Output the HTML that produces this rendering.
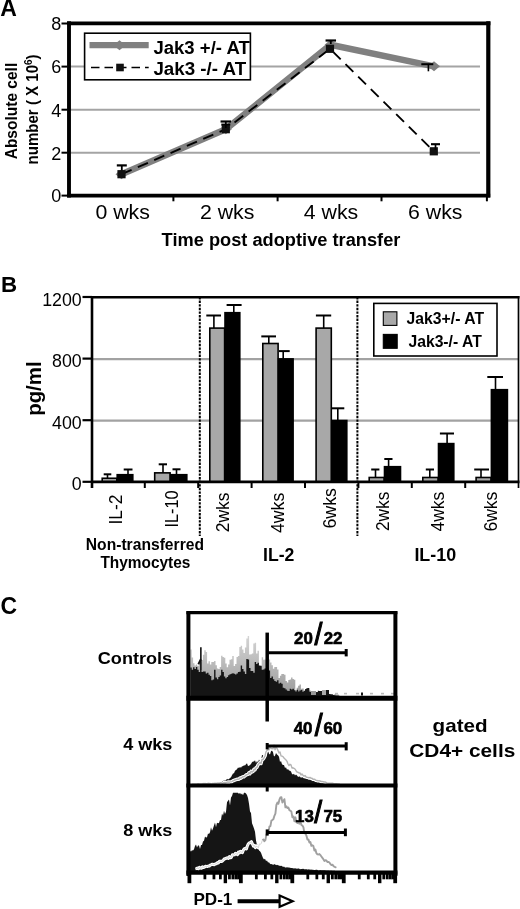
<!DOCTYPE html>
<html lang="en"><head><meta charset="utf-8"><title>Figure</title>
<style>html,body{margin:0;padding:0;background:#fff;}body{width:520px;height:909px;overflow:hidden;}svg{display:block;font-family:"Liberation Sans",Arial,Helvetica,sans-serif;filter:blur(0.45px);}</style></head><body>
<svg width="520" height="909" viewBox="0 0 520 909">
<rect x="0" y="0" width="520" height="909" fill="#fff"/>
<g id="panelA">
<text x="0.2" y="16.3" font-size="23" font-weight="bold">A</text>
<line x1="70" y1="66.5" x2="480" y2="66.5" stroke="#a4a4a4" stroke-width="2.1"/>
<line x1="70" y1="109.7" x2="480" y2="109.7" stroke="#a4a4a4" stroke-width="2.1"/>
<line x1="70" y1="152.7" x2="480" y2="152.7" stroke="#a4a4a4" stroke-width="2.1"/>
<line x1="69.0" y1="21.3" x2="69.0" y2="197.5" stroke="#000" stroke-width="3.9"/>
<line x1="67.1" y1="23.4" x2="490.4" y2="23.4" stroke="#000" stroke-width="3.8"/>
<line x1="488.3" y1="21.3" x2="488.3" y2="197.5" stroke="#000" stroke-width="4.2"/>
<line x1="67.1" y1="195.6" x2="490.2" y2="195.6" stroke="#000" stroke-width="3.9"/>
<line x1="61.5" y1="23.5" x2="67.5" y2="23.5" stroke="#000" stroke-width="2"/>
<text x="61.2" y="30.3" font-size="18" text-anchor="end">8</text>
<line x1="61.5" y1="66.6" x2="67.5" y2="66.6" stroke="#000" stroke-width="2"/>
<text x="61.2" y="73.39999999999999" font-size="18" text-anchor="end">6</text>
<line x1="61.5" y1="109.7" x2="67.5" y2="109.7" stroke="#000" stroke-width="2"/>
<text x="61.2" y="116.5" font-size="18" text-anchor="end">4</text>
<line x1="61.5" y1="152.7" x2="67.5" y2="152.7" stroke="#000" stroke-width="2"/>
<text x="61.2" y="159.5" font-size="18" text-anchor="end">2</text>
<line x1="61.5" y1="195.6" x2="67.5" y2="195.6" stroke="#000" stroke-width="2"/>
<text x="61.2" y="202.4" font-size="18" text-anchor="end">0</text>
<line x1="173.4" y1="197" x2="173.4" y2="201.3" stroke="#000" stroke-width="2"/>
<line x1="277.6" y1="197" x2="277.6" y2="201.3" stroke="#000" stroke-width="2"/>
<line x1="381.5" y1="197" x2="381.5" y2="201.3" stroke="#000" stroke-width="2"/>
<line x1="486.9" y1="197" x2="486.9" y2="201.3" stroke="#000" stroke-width="2"/>
<text x="95.39999999999999" y="218.9" font-size="20" textLength="54.4" lengthAdjust="spacingAndGlyphs">0 wks</text>
<text x="199.9" y="218.9" font-size="20" textLength="54.4" lengthAdjust="spacingAndGlyphs">2 wks</text>
<text x="303.8" y="218.9" font-size="20" textLength="54.4" lengthAdjust="spacingAndGlyphs">4 wks</text>
<text x="408.1" y="218.9" font-size="20" textLength="54.4" lengthAdjust="spacingAndGlyphs">6 wks</text>
<text x="161.6" y="246.3" font-size="18.3" font-weight="bold" textLength="238.8" lengthAdjust="spacingAndGlyphs">Time post adoptive transfer</text>
<text x="17" y="159.3" font-size="16.5" font-weight="bold" textLength="96.5" lengthAdjust="spacingAndGlyphs" transform="rotate(-90 17 159.3)">Absolute cell</text>
<text x="37.7" y="164.4" font-size="16.5" font-weight="bold" transform="rotate(-90 37.7 164.4)" textLength="110" lengthAdjust="spacingAndGlyphs">number ( X 10<tspan font-size="11" dy="-5.5">6</tspan><tspan dy="5.5">)</tspan></text>
<polyline points="121.5,174.2 225.8,129.2 330.6,44.8 434.0,66.3" fill="none" stroke="#808080" stroke-width="6.4" stroke-linejoin="miter"/>
<polygon points="115.5,174.2 121.5,169.2 127.5,174.2 121.5,179.2" fill="#808080"/>
<polygon points="219.8,129.2 225.8,124.19999999999999 231.8,129.2 225.8,134.2" fill="#808080"/>
<polygon points="324.6,44.8 330.6,39.8 336.6,44.8 330.6,49.8" fill="#808080"/>
<polygon points="428.0,66.3 434.0,61.3 440.0,66.3 434.0,71.3" fill="#808080"/>
<line x1="121.8" y1="165.4" x2="121.8" y2="172" stroke="#000" stroke-width="1.8"/>
<line x1="116.8" y1="165.4" x2="126.8" y2="165.4" stroke="#000" stroke-width="2.2"/>
<line x1="225.8" y1="121.5" x2="225.8" y2="127" stroke="#000" stroke-width="1.8"/>
<line x1="220.55" y1="121.5" x2="231.05" y2="121.5" stroke="#000" stroke-width="2.2"/>
<line x1="330.8" y1="40.5" x2="330.8" y2="44" stroke="#000" stroke-width="1.8"/>
<line x1="325.55" y1="40.5" x2="336.05" y2="40.5" stroke="#000" stroke-width="2.2"/>
<line x1="428.4" y1="64.2" x2="428.4" y2="71.3" stroke="#000" stroke-width="1.6"/>
<line x1="421.3" y1="64.2" x2="433.3" y2="64.2" stroke="#000" stroke-width="2.0"/>
<polyline points="121.5,174.2 225.8,129.2 330.0,48.8 433.8,151.3" fill="none" stroke="#000" stroke-width="1.9" stroke-dasharray="11 6.8"/>
<rect x="117.4" y="170.1" width="8.2" height="8.2" fill="#111"/>
<rect x="221.70000000000002" y="125.1" width="8.2" height="8.2" fill="#111"/>
<rect x="325.9" y="44.699999999999996" width="8.2" height="8.2" fill="#111"/>
<rect x="429.7" y="147.20000000000002" width="8.2" height="8.2" fill="#111"/>
<line x1="225.8" y1="124.6" x2="225.8" y2="128" stroke="#000" stroke-width="1.6"/>
<line x1="221.3" y1="124.6" x2="230.3" y2="124.6" stroke="#000" stroke-width="2.0"/>
<line x1="435.5" y1="144.2" x2="435.5" y2="150" stroke="#000" stroke-width="1.7"/>
<line x1="431.0" y1="144.2" x2="440.0" y2="144.2" stroke="#000" stroke-width="2.1"/>
<rect x="84.6" y="33.2" width="165.8" height="46.6" fill="#fff" stroke="#000" stroke-width="1.6"/>
<line x1="89.5" y1="45.2" x2="148.7" y2="45.2" stroke="#808080" stroke-width="6.2"/>
<polygon points="113.5,45.2 119.5,40.2 125.5,45.2 119.5,50.2" fill="#808080"/>
<line x1="91" y1="67.5" x2="148.7" y2="67.5" stroke="#000" stroke-width="1.7" stroke-dasharray="8.5 5"/>
<rect x="116.2" y="63.7" width="7.6" height="7.6" fill="#111"/>
<text x="153.4" y="53.7" font-size="18.8" font-weight="bold" textLength="96.4" lengthAdjust="spacingAndGlyphs">Jak3 +/- AT</text>
<text x="153.4" y="74.5" font-size="18.8" font-weight="bold" textLength="92.8" lengthAdjust="spacingAndGlyphs">Jak3 -/- AT</text>
</g>
<g id="panelB">
<text x="1.0" y="292.2" font-size="22.3" font-weight="bold">B</text>
<line x1="92" y1="420.6" x2="518" y2="420.6" stroke="#a2a2a2" stroke-width="2.1"/>
<line x1="92" y1="359.1" x2="518" y2="359.1" stroke="#a2a2a2" stroke-width="2.1"/>
<line x1="199.8" y1="297" x2="199.8" y2="536" stroke="#000" stroke-width="2.0" stroke-dasharray="2.4 1.2"/>
<line x1="357.4" y1="297" x2="357.4" y2="536" stroke="#000" stroke-width="2.0" stroke-dasharray="2.4 1.2"/>
<line x1="107.5" y1="474.3" x2="107.5" y2="478" stroke="#000" stroke-width="1.6"/>
<line x1="103.7" y1="474.3" x2="111.3" y2="474.3" stroke="#000" stroke-width="2.0"/>
<line x1="128.0" y1="469.5" x2="128.0" y2="475" stroke="#000" stroke-width="1.6"/>
<line x1="123.7" y1="469.5" x2="132.5" y2="469.5" stroke="#000" stroke-width="2.0"/>
<line x1="163.0" y1="464.3" x2="163.0" y2="473" stroke="#000" stroke-width="1.6"/>
<line x1="158.7" y1="464.3" x2="167.0" y2="464.3" stroke="#000" stroke-width="2.0"/>
<line x1="176.5" y1="469.3" x2="176.5" y2="475" stroke="#000" stroke-width="1.6"/>
<line x1="172.5" y1="469.3" x2="180.5" y2="469.3" stroke="#000" stroke-width="2.0"/>
<line x1="213.9" y1="315.5" x2="213.9" y2="329" stroke="#000" stroke-width="1.6"/>
<line x1="206.3" y1="315.5" x2="221.0" y2="315.5" stroke="#000" stroke-width="2.0"/>
<line x1="233.8" y1="305.0" x2="233.8" y2="313" stroke="#000" stroke-width="1.6"/>
<line x1="226.6" y1="305.0" x2="241.6" y2="305.0" stroke="#000" stroke-width="2.0"/>
<line x1="268.8" y1="336.4" x2="268.8" y2="344" stroke="#000" stroke-width="1.6"/>
<line x1="261.3" y1="336.4" x2="276.0" y2="336.4" stroke="#000" stroke-width="2.0"/>
<line x1="283.2" y1="351.1" x2="283.2" y2="359" stroke="#000" stroke-width="1.6"/>
<line x1="278.9" y1="351.1" x2="289.7" y2="351.1" stroke="#000" stroke-width="2.0"/>
<line x1="323.7" y1="315.5" x2="323.7" y2="329" stroke="#000" stroke-width="1.6"/>
<line x1="315.9" y1="315.5" x2="331.2" y2="315.5" stroke="#000" stroke-width="2.0"/>
<line x1="337.8" y1="408.3" x2="337.8" y2="420" stroke="#000" stroke-width="1.6"/>
<line x1="331.2" y1="408.3" x2="344.3" y2="408.3" stroke="#000" stroke-width="2.0"/>
<line x1="375.5" y1="469.5" x2="375.5" y2="477" stroke="#000" stroke-width="1.6"/>
<line x1="371.2" y1="469.5" x2="379.4" y2="469.5" stroke="#000" stroke-width="2.0"/>
<line x1="388.6" y1="459.0" x2="388.6" y2="467" stroke="#000" stroke-width="1.6"/>
<line x1="384.3" y1="459.0" x2="392.5" y2="459.0" stroke="#000" stroke-width="2.0"/>
<line x1="429.8" y1="469.5" x2="429.8" y2="477" stroke="#000" stroke-width="1.6"/>
<line x1="425.8" y1="469.5" x2="434.0" y2="469.5" stroke="#000" stroke-width="2.0"/>
<line x1="447.1" y1="433.5" x2="447.1" y2="444" stroke="#000" stroke-width="1.6"/>
<line x1="439.9" y1="433.5" x2="454.0" y2="433.5" stroke="#000" stroke-width="2.0"/>
<line x1="481.0" y1="469.5" x2="481.0" y2="477" stroke="#000" stroke-width="1.6"/>
<line x1="474.2" y1="469.5" x2="489.0" y2="469.5" stroke="#000" stroke-width="2.0"/>
<line x1="495.5" y1="377.0" x2="495.5" y2="390" stroke="#000" stroke-width="1.6"/>
<line x1="487.3" y1="377.0" x2="503.0" y2="377.0" stroke="#000" stroke-width="2.0"/>
<rect x="102.2" y="478.25" width="14.6" height="3.550000000000023" fill="#a8a8a8" stroke="#000" stroke-width="1.6"/>
<rect x="117.2" y="474.708" width="15.6" height="7.091999999999996" fill="#000" stroke="#000" stroke-width="1.6"/>
<rect x="154.7" y="472.86" width="15.400000000000011" height="8.940000000000008" fill="#a8a8a8" stroke="#000" stroke-width="1.6"/>
<rect x="170.5" y="474.708" width="16.29999999999999" height="7.091999999999996" fill="#000" stroke="#000" stroke-width="1.6"/>
<rect x="209.79999999999998" y="328.1" width="14.800000000000017" height="153.7" fill="#a8a8a8" stroke="#000" stroke-width="1.6"/>
<rect x="225.0" y="312.7" width="14.799999999999988" height="169.10000000000002" fill="#000" stroke="#000" stroke-width="1.6"/>
<rect x="262.8" y="343.50000000000006" width="15.299999999999988" height="138.29999999999995" fill="#a8a8a8" stroke="#000" stroke-width="1.6"/>
<rect x="278.5" y="358.90000000000003" width="14.6" height="122.89999999999999" fill="#000" stroke="#000" stroke-width="1.6"/>
<rect x="316.09999999999997" y="328.1" width="15.200000000000022" height="153.7" fill="#a8a8a8" stroke="#000" stroke-width="1.6"/>
<rect x="331.7" y="420.5" width="15.1" height="61.300000000000026" fill="#000" stroke="#000" stroke-width="1.6"/>
<rect x="369.2" y="477.48" width="14.900000000000011" height="4.320000000000005" fill="#a8a8a8" stroke="#000" stroke-width="1.6"/>
<rect x="384.5" y="466.70000000000005" width="15.999999999999977" height="15.099999999999977" fill="#000" stroke="#000" stroke-width="1.6"/>
<rect x="422.8" y="477.48" width="15.299999999999988" height="4.320000000000005" fill="#a8a8a8" stroke="#000" stroke-width="1.6"/>
<rect x="438.5" y="443.6" width="15.299999999999988" height="38.2" fill="#000" stroke="#000" stroke-width="1.6"/>
<rect x="476.09999999999997" y="477.48" width="14.900000000000011" height="4.320000000000005" fill="#a8a8a8" stroke="#000" stroke-width="1.6"/>
<rect x="491.4" y="389.7" width="16.000000000000036" height="92.10000000000004" fill="#000" stroke="#000" stroke-width="1.6"/>
<line x1="92" y1="296" x2="92" y2="488" stroke="#000" stroke-width="2.6"/>
<line x1="91" y1="297.2" x2="519.5" y2="297.2" stroke="#000" stroke-width="2.4"/>
<line x1="518.5" y1="296" x2="518.5" y2="488" stroke="#000" stroke-width="1.7"/>
<line x1="91" y1="481.8" x2="519.5" y2="481.8" stroke="#000" stroke-width="2.8"/>
<line x1="144.8" y1="481.8" x2="144.8" y2="488" stroke="#000" stroke-width="2.0"/>
<line x1="198.2" y1="481.8" x2="198.2" y2="488" stroke="#000" stroke-width="2.0"/>
<line x1="251.6" y1="481.8" x2="251.6" y2="488" stroke="#000" stroke-width="2.0"/>
<line x1="305.0" y1="481.8" x2="305.0" y2="488" stroke="#000" stroke-width="2.0"/>
<line x1="358.4" y1="481.8" x2="358.4" y2="488" stroke="#000" stroke-width="2.0"/>
<line x1="411.79999999999995" y1="481.8" x2="411.79999999999995" y2="488" stroke="#000" stroke-width="2.0"/>
<line x1="465.20000000000005" y1="481.8" x2="465.20000000000005" y2="488" stroke="#000" stroke-width="2.0"/>
<line x1="82.5" y1="481.8" x2="92" y2="481.8" stroke="#000" stroke-width="2.2"/>
<text x="81.7" y="490.40000000000003" font-size="17.8" text-anchor="end">0</text>
<line x1="82.5" y1="420.2" x2="92" y2="420.2" stroke="#000" stroke-width="2.2"/>
<text x="81.7" y="428.8" font-size="17.8" text-anchor="end">400</text>
<line x1="82.5" y1="358.6" x2="92" y2="358.6" stroke="#000" stroke-width="2.2"/>
<text x="81.7" y="367.20000000000005" font-size="17.8" text-anchor="end">800</text>
<line x1="82.5" y1="297.0" x2="92" y2="297.0" stroke="#000" stroke-width="2.2"/>
<text x="81.7" y="305.6" font-size="17.8" text-anchor="end">1200</text>
<text x="40.9" y="415.8" font-size="20.3" font-weight="bold" textLength="54.4" lengthAdjust="spacingAndGlyphs" transform="rotate(-90 40.9 415.8)">pg/ml</text>
<text x="122.3" y="524.6" font-size="17.5" textLength="30.0" lengthAdjust="spacingAndGlyphs" transform="rotate(-90 122.3 524.6)">IL-2</text>
<text x="178.0" y="527.5" font-size="17.5" textLength="37.0" lengthAdjust="spacingAndGlyphs" transform="rotate(-90 178.0 527.5)">IL-10</text>
<text x="229.2" y="532.3" font-size="17.5" textLength="39.8" lengthAdjust="spacingAndGlyphs" transform="rotate(-90 229.2 532.3)">2wks</text>
<text x="283.6" y="533.0" font-size="17.5" textLength="40.3" lengthAdjust="spacingAndGlyphs" transform="rotate(-90 283.6 533.0)">4wks</text>
<text x="335.6" y="528.6" font-size="17.5" textLength="40.6" lengthAdjust="spacingAndGlyphs" transform="rotate(-90 335.6 528.6)">6wks</text>
<text x="389.4" y="531.0" font-size="17.5" textLength="39.4" lengthAdjust="spacingAndGlyphs" transform="rotate(-90 389.4 531.0)">2wks</text>
<text x="443.6" y="531.6" font-size="17.5" textLength="40.0" lengthAdjust="spacingAndGlyphs" transform="rotate(-90 443.6 531.6)">4wks</text>
<text x="497.0" y="531.6" font-size="17.5" textLength="40.0" lengthAdjust="spacingAndGlyphs" transform="rotate(-90 497.0 531.6)">6wks</text>
<text x="85.8" y="549.6" font-size="16.2" font-weight="bold" textLength="118.2" lengthAdjust="spacingAndGlyphs">Non-transferred</text>
<text x="100.4" y="567.6" font-size="16.2" font-weight="bold" textLength="90" lengthAdjust="spacingAndGlyphs">Thymocytes</text>
<text x="263.0" y="561.3" font-size="17.8" font-weight="bold" textLength="31.4" lengthAdjust="spacingAndGlyphs">IL-2</text>
<text x="414.4" y="561.3" font-size="17.8" font-weight="bold" textLength="41.8" lengthAdjust="spacingAndGlyphs">IL-10</text>
<rect x="373.8" y="303.4" width="123.2" height="52.6" fill="#fff" stroke="#000" stroke-width="1.6"/>
<rect x="383.3" y="311.8" width="13.6" height="13.6" fill="#a8a8a8" stroke="#000" stroke-width="1.1"/>
<rect x="383.3" y="334.4" width="13.9" height="13.9" fill="#000" stroke="#000" stroke-width="1.1"/>
<text x="406.6" y="323.9" font-size="16.2" font-weight="bold" textLength="77.4" lengthAdjust="spacingAndGlyphs">Jak3+/- AT</text>
<text x="408.4" y="346.5" font-size="16.2" font-weight="bold" textLength="73.4" lengthAdjust="spacingAndGlyphs">Jak3-/- AT</text>
</g>
<g id="panelC">
<text x="0.6" y="613.7" font-size="24" font-weight="bold" textLength="16.6" lengthAdjust="spacingAndGlyphs">C</text>
<defs><linearGradient id="gg" x1="0" y1="0" x2="0" y2="1"><stop offset="0" stop-color="#d4d4d4"/><stop offset="1" stop-color="#9a9a9a"/></linearGradient></defs>
<polygon points="190.3,697 190.3,649.4 191.7,649.4 191.7,657.5 193.1,657.5 193.1,663.3 194.5,663.3 194.5,665.4 195.9,665.4 195.9,664.5 197.3,664.5 197.3,666.0 198.7,666.0 198.7,664.0 200.1,664.0 200.1,661.3 201.5,661.3 201.5,660.1 202.9,660.1 202.9,654.8 204.3,654.8 204.3,650.3 205.7,650.3 205.7,651.9 207.1,651.9 207.1,663.5 208.5,663.5 208.5,661.2 209.9,661.2 209.9,664.4 211.3,664.4 211.3,661.9 212.7,661.9 212.7,661.9 214.1,661.9 214.1,661.1 215.5,661.1 215.5,665.3 216.9,665.3 216.9,668.4 218.3,668.4 218.3,669.0 219.7,669.0 219.7,666.9 221.1,666.9 221.1,655.7 222.5,655.7 222.5,657.0 223.9,657.0 223.9,657.8 225.3,657.8 225.3,663.5 226.7,663.5 226.7,667.2 228.1,667.2 228.1,664.6 229.5,664.6 229.5,659.7 230.9,659.7 230.9,659.2 232.3,659.2 232.3,656.1 233.7,656.1 233.7,666.0 235.1,666.0 235.1,663.9 236.5,663.9 236.5,657.0 237.9,657.0 237.9,656.0 239.3,656.0 239.3,647.1 240.7,647.1 240.7,645.8 242.1,645.8 242.1,649.4 243.5,649.4 243.5,653.1 244.9,653.1 244.9,647.4 246.3,647.4 246.3,638.5 247.7,638.5 247.7,636.0 249.1,636.0 249.1,654.6 250.5,654.6 250.5,654.2 251.9,654.2 251.9,653.6 253.3,653.6 253.3,643.5 254.7,643.5 254.7,642.7 256.1,642.7 256.1,653.5 257.5,653.5 257.5,650.8 258.9,650.8 258.9,665.1 260.3,665.1 260.3,666.6 261.7,666.6 261.7,657.2 263.1,657.2 263.1,659.7 264.5,659.7 264.5,659.5 265.9,659.5 265.9,658.0 267.3,658.0 267.3,658.5 268.7,658.5 268.7,659.6 270.1,659.6 270.1,662.6 271.5,662.6 271.5,665.3 272.9,665.3 272.9,668.8 274.3,668.8 274.3,667.0 275.7,667.0 275.7,666.9 277.1,666.9 277.1,669.4 278.5,669.4 278.5,677.9 279.9,677.9 279.9,675.8 281.3,675.8 281.3,674.0 282.7,674.0 282.7,673.9 284.1,673.9 284.1,674.7 285.5,674.7 285.5,680.9 286.9,680.9 286.9,682.6 288.3,682.6 288.3,679.9 289.7,679.9 289.7,679.5 291.1,679.5 291.1,677.5 292.5,677.5 292.5,679.0 293.9,679.0 293.9,679.8 295.3,679.8 295.3,690.3 296.7,690.3 296.7,687.8 298.1,687.8 298.1,685.7 299.5,685.7 299.5,684.4 300.9,684.4 300.9,688.7 302.3,688.7 302.3,688.5 303.7,688.5 303.7,691.3 305.1,691.3 305.1,691.2 306.5,691.2 306.5,687.9 307.9,687.9 307.9,689.3 309.3,689.3 309.3,690.5 310.7,690.5 310.7,692.8 312.1,692.8 312.1,693.1 313.5,693.1 313.5,691.5 314.9,691.5 314.9,693.2 316.3,693.2 316.3,691.9 317.7,691.9 317.7,690.5 319.1,690.5 319.1,694.0 320.5,694.0 320.5,693.2 321.9,693.2 321.9,693.1 323.3,693.1 323.3,692.9 324.7,692.9 324.7,694.2 326.1,694.2 326.1,692.9 327.5,692.9 327.5,693.0 328.9,693.0 328.9,694.4 330.3,694.4 330.3,694.5 331.7,694.5 331.7,694.3 333.1,694.3 333.1,694.9 334.5,694.9 334.5,694.0 335.9,694.0 335.9,694.4 337.3,694.4 337.3,694.6 338.7,694.6 338.7,694.9 339.4,694.9 339.4,697" fill="url(#gg)"/>
<polygon points="190.3,697 190.3,667.5 191.7,667.5 191.7,669.8 193.1,669.8 193.1,667.2 194.5,667.2 194.5,669.0 195.9,669.0 195.9,667.0 197.3,667.0 197.3,669.7 198.7,669.7 198.7,672.1 200.1,672.1 200.1,670.0 201.5,670.0 201.5,672.0 202.9,672.0 202.9,671.4 204.3,671.4 204.3,671.4 205.7,671.4 205.7,673.6 207.1,673.6 207.1,672.7 208.5,672.7 208.5,674.7 209.9,674.7 209.9,675.9 211.3,675.9 211.3,680.2 212.7,680.2 212.7,679.5 214.1,679.5 214.1,669.7 215.5,669.7 215.5,677.6 216.9,677.6 216.9,679.2 218.3,679.2 218.3,677.1 219.7,677.1 219.7,675.6 221.1,675.6 221.1,669.7 222.5,669.7 222.5,672.1 223.9,672.1 223.9,676.5 225.3,676.5 225.3,678.3 226.7,678.3 226.7,676.9 228.1,676.9 228.1,675.2 229.5,675.2 229.5,674.2 230.9,674.2 230.9,673.8 232.3,673.8 232.3,673.2 233.7,673.2 233.7,673.7 235.1,673.7 235.1,674.5 236.5,674.5 236.5,673.5 237.9,673.5 237.9,672.1 239.3,672.1 239.3,671.8 240.7,671.8 240.7,665.6 242.1,665.6 242.1,669.0 243.5,669.0 243.5,671.6 244.9,671.6 244.9,674.0 246.3,674.0 246.3,659.1 247.7,659.1 247.7,659.6 249.1,659.6 249.1,668.0 250.5,668.0 250.5,670.9 251.9,670.9 251.9,671.1 253.3,671.1 253.3,672.8 254.7,672.8 254.7,661.9 256.1,661.9 256.1,663.9 257.5,663.9 257.5,662.8 258.9,662.8 258.9,665.8 260.3,665.8 260.3,665.8 261.7,665.8 261.7,669.8 263.1,669.8 263.1,669.5 264.5,669.5 264.5,668.4 265.9,668.4 265.9,668.0 267.3,668.0 267.3,668.5 268.7,668.5 268.7,670.5 270.1,670.5 270.1,677.9 271.5,677.9 271.5,676.5 272.9,676.5 272.9,679.2 274.3,679.2 274.3,681.1 275.7,681.1 275.7,681.7 277.1,681.7 277.1,680.2 278.5,680.2 278.5,683.4 279.9,683.4 279.9,682.7 281.3,682.7 281.3,683.7 282.7,683.7 282.7,687.7 284.1,687.7 284.1,688.2 285.5,688.2 285.5,689.4 286.9,689.4 286.9,690.7 288.3,690.7 288.3,690.9 289.7,690.9 289.7,688.8 291.1,688.8 291.1,689.4 292.5,689.4 292.5,688.8 293.9,688.8 293.9,690.2 295.3,690.2 295.3,691.4 296.7,691.4 296.7,689.7 298.1,689.7 298.1,691.5 299.5,691.5 299.5,690.6 300.9,690.6 300.9,689.9 302.3,689.9 302.3,691.7 303.7,691.7 303.7,690.8 305.1,690.8 305.1,688.9 306.5,688.9 306.5,688.3 307.9,688.3 307.9,688.0 309.3,688.0 309.3,691.8 310.7,691.8 310.7,692.0 312.1,692.0 312.1,692.1 313.5,692.1 313.5,692.6 314.9,692.6 314.9,692.3 316.3,692.3 316.3,692.1 317.7,692.1 317.7,692.3 319.1,692.3 319.1,692.5 320.5,692.5 320.5,693.4 321.9,693.4 321.9,693.3 323.3,693.3 323.3,694.1 324.7,694.1 324.7,693.9 326.1,693.9 326.1,694.3 327.5,694.3 327.5,694.8 328.9,694.8 328.9,694.1 330.3,694.1 330.3,694.3 331.7,694.3 331.7,694.6 333.1,694.6 333.1,695.1 334.5,695.1 334.5,695.4 335.9,695.4 335.9,695.7 337.3,695.7 337.3,695.8 338.7,695.8 338.7,696.2 340.1,696.2 340.1,696.1 341.5,696.1 341.5,696.5 342.9,696.5 342.9,696.6 344.3,696.6 344.3,696.8 345.7,696.8 345.7,696.9 345.8,696.9 345.8,697" fill="#151515"/>
<line x1="200.86629997884492" y1="647.212819970383" x2="200.86629997884492" y2="670" stroke="#111" stroke-width="1.6"/>
<polyline points="200.86629997884492,659.212819970383 198.36629997884492,664.212819970383" stroke="#111" stroke-width="2" fill="none"/>
<rect x="305" y="690" width="3" height="5" fill="#151515"/>
<rect x="318" y="691" width="4" height="4" fill="#151515"/>
<rect x="326" y="690" width="3" height="5" fill="#151515"/>
<rect x="311" y="691" width="5" height="4" fill="#999"/>
<rect x="322" y="690" width="4" height="5" fill="#aaa"/>
<rect x="361" y="692.5" width="2" height="3" fill="#151515"/>
<rect x="335" y="692.8" width="3" height="1.6" fill="#bbb"/>
<rect x="344" y="692.8" width="3" height="1.6" fill="#bbb"/>
<rect x="356" y="692.8" width="3" height="1.6" fill="#bbb"/>
<rect x="370" y="692.8" width="3" height="1.6" fill="#bbb"/>
<rect x="381" y="692.8" width="3" height="1.6" fill="#bbb"/>
<rect x="391" y="692.8" width="3" height="1.6" fill="#bbb"/>
<polygon points="212,784.5 212.0,784.2 213.0,784.0 214.0,784.0 215.0,783.6 216.0,783.4 217.0,783.3 218.0,782.8 219.0,782.8 220.0,782.6 221.0,782.4 222.0,781.3 223.0,781.1 224.0,780.4 225.0,780.8 226.0,780.2 227.0,778.8 228.0,779.5 229.0,779.0 230.0,777.9 231.0,777.3 232.0,775.2 233.0,773.4 234.0,773.2 235.0,770.7 236.0,770.1 237.0,769.2 238.0,767.6 239.0,768.0 240.0,767.0 241.0,767.8 242.0,766.2 243.0,766.3 244.0,765.3 245.0,765.5 246.0,764.3 247.0,763.3 248.0,766.0 249.0,765.8 250.0,764.9 251.0,764.1 252.0,762.2 253.0,761.6 254.0,761.5 255.0,760.3 256.0,763.1 257.0,761.0 258.0,762.4 259.0,759.5 260.0,761.6 261.0,760.4 262.0,755.1 263.0,755.3 264.0,758.2 265.0,754.8 266.0,756.9 267.0,753.1 268.0,750.6 269.0,753.7 270.0,754.5 271.0,751.3 272.0,750.4 273.0,752.2 274.0,756.4 275.0,755.7 276.0,752.9 277.0,754.5 278.0,755.3 279.0,756.8 280.0,762.1 281.0,760.9 282.0,764.2 283.0,764.9 284.0,765.1 285.0,768.1 286.0,767.2 287.0,769.8 288.0,768.9 289.0,770.6 290.0,770.7 291.0,771.6 292.0,774.1 293.0,774.4 294.0,773.8 295.0,775.5 296.0,774.6 297.0,775.4 298.0,776.8 299.0,776.8 300.0,776.3 301.0,778.1 302.0,777.1 303.0,777.5 304.0,778.6 305.0,778.2 306.0,778.5 307.0,778.5 308.0,778.9 309.0,779.7 310.0,779.6 311.0,780.2 312.0,780.2 313.0,780.6 314.0,781.3 315.0,781.1 316.0,781.4 317.0,781.9 318.0,781.5 319.0,781.8 320.0,782.6 321.0,782.7 322.0,782.5 323.0,782.6 324.0,783.2 325.0,783.5 326.0,783.2 327.0,783.8 328.0,784.0 329.0,784.0 330.0,783.9 331.0,783.8 332.0,783.8 333.0,784.3 334.0,783.9 335.0,784.2 336.0,784.0 337.0,784.3 338.0,784.2 339.0,784.1 340.0,784.1 341.0,784.4 342.0,784.1 343.0,784.2 344.0,784.4 345.0,784.5 345,784.5" fill="#151515"/>
<polyline points="192.0,784.1 193.0,784.1 194.0,784.1 195.0,784.2 196.0,784.1 197.0,784.2 198.0,783.6 199.0,783.8 200.0,784.1 201.0,783.9 202.0,784.1 203.0,783.5 204.0,783.7 205.0,783.5 206.0,783.7 207.0,783.7 208.0,783.3 209.0,783.4 210.0,783.5 211.0,783.9 212.0,783.7 213.0,783.3 214.0,783.7 215.0,783.2 216.0,783.5 217.0,783.1 218.0,782.9 219.0,783.4 220.0,782.8 221.0,782.7 222.0,783.2 223.0,783.1 224.0,782.5 225.0,783.0 226.0,782.5 227.0,782.4 228.0,781.9 229.0,782.3 230.0,781.9 231.0,781.9 232.0,781.6 233.0,780.7 234.0,780.5 235.0,780.0 236.0,779.7 237.0,779.3 238.0,779.3 239.0,779.1 240.0,777.9 241.0,778.2 242.0,777.3 243.0,776.7 244.0,776.9 245.0,775.9 246.0,775.0 247.0,774.7 248.0,774.4 249.0,772.7 250.0,773.7 251.0,771.3 252.0,772.0 253.0,771.5 254.0,769.2 255.0,769.8 256.0,767.8 257.0,767.2 258.0,764.8 259.0,763.6 260.0,762.6 261.0,763.5 262.0,759.5 263.0,759.3 264.0,757.9 265.0,756.0 266.0,751.8 267.0,750.4 268.0,749.6 269.0,749.9 270.0,746.2 271.0,748.6 272.0,748.6 273.0,748.7 274.0,745.1 275.0,749.7 276.0,746.7 277.0,748.4 278.0,750.5 279.0,752.9 280.0,751.9 281.0,755.8 282.0,756.2 283.0,756.7 284.0,758.1 285.0,759.0 286.0,759.9 287.0,761.3 288.0,764.0 289.0,765.6 290.0,764.3 291.0,764.9 292.0,768.0 293.0,767.8 294.0,768.4 295.0,769.0 296.0,770.7 297.0,772.0 298.0,772.2 299.0,773.0 300.0,772.9 301.0,774.9 302.0,774.0 303.0,775.3 304.0,776.2 305.0,775.5 306.0,776.8 307.0,777.4 308.0,777.4 309.0,777.9 310.0,777.4 311.0,778.2 312.0,778.2 313.0,779.3 314.0,779.1 315.0,779.5 316.0,780.4 317.0,780.5 318.0,780.9 319.0,780.7 320.0,781.0 321.0,781.5 322.0,781.5 323.0,781.6 324.0,782.0 325.0,782.0 326.0,782.4 327.0,783.1 328.0,783.3 329.0,783.3 330.0,783.3 331.0,783.2 332.0,783.1 333.0,783.3 334.0,783.8 335.0,783.9 336.0,783.6 337.0,784.0 338.0,784.0 339.0,784.1 340.0,784.1" fill="none" stroke="#fff" stroke-width="3.4" stroke-linejoin="round"/>
<polyline points="192.0,784.1 193.0,784.1 194.0,784.1 195.0,784.2 196.0,784.1 197.0,784.2 198.0,783.6 199.0,783.8 200.0,784.1 201.0,783.9 202.0,784.1 203.0,783.5 204.0,783.7 205.0,783.5 206.0,783.7 207.0,783.7 208.0,783.3 209.0,783.4 210.0,783.5 211.0,783.9 212.0,783.7 213.0,783.3 214.0,783.7 215.0,783.2 216.0,783.5 217.0,783.1 218.0,782.9 219.0,783.4 220.0,782.8 221.0,782.7 222.0,783.2 223.0,783.1 224.0,782.5 225.0,783.0 226.0,782.5 227.0,782.4 228.0,781.9 229.0,782.3 230.0,781.9 231.0,781.9 232.0,781.6 233.0,780.7 234.0,780.5 235.0,780.0 236.0,779.7 237.0,779.3 238.0,779.3 239.0,779.1 240.0,777.9 241.0,778.2 242.0,777.3 243.0,776.7 244.0,776.9 245.0,775.9 246.0,775.0 247.0,774.7 248.0,774.4 249.0,772.7 250.0,773.7 251.0,771.3 252.0,772.0 253.0,771.5 254.0,769.2 255.0,769.8 256.0,767.8 257.0,767.2 258.0,764.8 259.0,763.6 260.0,762.6 261.0,763.5 262.0,759.5 263.0,759.3 264.0,757.9 265.0,756.0 266.0,751.8 267.0,750.4 268.0,749.6 269.0,749.9 270.0,746.2 271.0,748.6 272.0,748.6 273.0,748.7 274.0,745.1 275.0,749.7 276.0,746.7 277.0,748.4 278.0,750.5 279.0,752.9 280.0,751.9 281.0,755.8 282.0,756.2 283.0,756.7 284.0,758.1 285.0,759.0 286.0,759.9 287.0,761.3 288.0,764.0 289.0,765.6 290.0,764.3 291.0,764.9 292.0,768.0 293.0,767.8 294.0,768.4 295.0,769.0 296.0,770.7 297.0,772.0 298.0,772.2 299.0,773.0 300.0,772.9 301.0,774.9 302.0,774.0 303.0,775.3 304.0,776.2 305.0,775.5 306.0,776.8 307.0,777.4 308.0,777.4 309.0,777.9 310.0,777.4 311.0,778.2 312.0,778.2 313.0,779.3 314.0,779.1 315.0,779.5 316.0,780.4 317.0,780.5 318.0,780.9 319.0,780.7 320.0,781.0 321.0,781.5 322.0,781.5 323.0,781.6 324.0,782.0 325.0,782.0 326.0,782.4 327.0,783.1 328.0,783.3 329.0,783.3 330.0,783.3 331.0,783.2 332.0,783.1 333.0,783.3 334.0,783.8 335.0,783.9 336.0,783.6 337.0,784.0 338.0,784.0 339.0,784.1 340.0,784.1" fill="none" stroke="#b4b4b4" stroke-width="1.4" stroke-linejoin="round"/>
<polygon points="190,871 190.0,851.1 191.0,851.5 192.0,850.2 193.0,850.4 194.0,849.3 195.0,846.0 196.0,844.6 197.0,847.5 198.0,845.4 199.0,845.6 200.0,849.0 201.0,845.1 202.0,845.0 203.0,841.6 204.0,840.7 205.0,836.5 206.0,837.5 207.0,837.3 208.0,833.6 209.0,833.9 210.0,832.3 211.0,827.3 212.0,830.7 213.0,828.6 214.0,825.6 215.0,822.6 216.0,827.2 217.0,822.8 218.0,823.2 219.0,823.0 220.0,819.9 221.0,820.0 222.0,813.6 223.0,815.7 224.0,810.8 225.0,814.0 226.0,811.8 227.0,802.2 228.0,800.7 229.0,799.5 230.0,805.5 231.0,797.4 232.0,796.1 233.0,792.7 234.0,792.7 235.0,792.7 236.0,792.7 237.0,792.7 238.0,792.7 239.0,794.1 240.0,792.7 241.0,794.4 242.0,793.5 243.0,795.2 244.0,792.7 245.0,792.7 246.0,793.6 247.0,794.9 248.0,797.9 249.0,803.7 250.0,811.5 251.0,813.1 252.0,823.2 253.0,825.8 254.0,828.5 255.0,831.8 256.0,840.6 257.0,845.0 258.0,844.5 259.0,850.5 260.0,851.3 261.0,852.8 262.0,855.5 263.0,857.9 264.0,859.4 265.0,858.8 266.0,861.1 267.0,860.6 268.0,862.4 269.0,862.2 270.0,863.7 271.0,864.3 272.0,863.9 273.0,864.9 274.0,864.2 275.0,864.2 276.0,865.2 277.0,864.7 278.0,865.2 279.0,865.6 280.0,866.1 281.0,865.8 282.0,865.9 283.0,867.0 284.0,866.6 285.0,867.5 286.0,867.5 287.0,867.2 288.0,867.4 289.0,867.6 290.0,867.8 291.0,867.9 292.0,868.0 293.0,868.2 294.0,868.6 295.0,868.3 296.0,868.4 297.0,868.7 298.0,868.4 299.0,868.6 300.0,869.2 301.0,868.9 302.0,869.0 303.0,868.8 304.0,869.1 305.0,869.4 306.0,869.0 307.0,869.5 308.0,869.6 309.0,869.3 310.0,869.7 311.0,869.6 312.0,869.8 313.0,869.7 314.0,870.0 315.0,870.0 316.0,869.7 317.0,869.8 318.0,870.2 319.0,870.4 320.0,870.1 321.0,870.2 322.0,870.3 323.0,870.2 324.0,870.3 325.0,870.3 326.0,870.4 327.0,870.5 328.0,870.4 329.0,870.5 330.0,870.7 331.0,870.4 332.0,870.7 333.0,870.8 334.0,870.7 335.0,870.7 335,871" fill="#151515"/>
<polyline points="195.4,868.9 196.4,868.6 197.4,868.1 198.4,868.9 199.4,867.4 200.4,868.0 201.4,868.3 202.4,866.9 203.4,867.4 204.4,867.3 205.4,866.2 206.4,866.4 207.4,866.6 208.4,865.9 209.4,866.1 210.4,864.9 211.4,864.7 212.4,864.2 213.4,864.5 214.4,864.8 215.4,863.8 216.4,863.8 217.4,862.6 218.4,863.0 219.4,861.3 220.4,861.2 221.4,861.5 222.4,861.1 223.4,860.0 224.4,858.8 225.4,858.7 226.4,858.1 227.4,857.8 228.4,858.5 229.4,856.6 230.4,857.8 231.4,857.3 232.4,854.8 233.4,855.1 234.4,854.9 235.4,853.2 236.4,853.8 237.4,854.7 238.4,852.1 239.4,853.0 240.4,851.2 241.4,852.1 242.4,852.6 243.4,850.0 244.4,848.7 245.4,848.3 246.4,849.0 247.4,845.9 248.4,843.7 249.4,842.7 250.4,842.8 251.4,841.6 252.4,843.9 253.4,846.1 254.4,845.4 255.4,847.6 256.4,845.9 257.4,847.0 258.4,847.9 259.4,843.9 260.4,844.3 261.4,843.2 262.4,840.2" fill="none" stroke="#fff" stroke-width="3.0" stroke-linejoin="round"/>
<polyline points="195.4,868.9 196.4,868.6 197.4,868.1 198.4,868.9 199.4,867.4 200.4,868.0 201.4,868.3 202.4,866.9 203.4,867.4 204.4,867.3 205.4,866.2 206.4,866.4 207.4,866.6 208.4,865.9 209.4,866.1 210.4,864.9 211.4,864.7 212.4,864.2 213.4,864.5 214.4,864.8 215.4,863.8 216.4,863.8 217.4,862.6 218.4,863.0 219.4,861.3 220.4,861.2 221.4,861.5 222.4,861.1 223.4,860.0 224.4,858.8 225.4,858.7 226.4,858.1 227.4,857.8 228.4,858.5 229.4,856.6 230.4,857.8 231.4,857.3 232.4,854.8 233.4,855.1 234.4,854.9 235.4,853.2 236.4,853.8 237.4,854.7 238.4,852.1 239.4,853.0 240.4,851.2 241.4,852.1 242.4,852.6 243.4,850.0 244.4,848.7 245.4,848.3 246.4,849.0 247.4,845.9 248.4,843.7 249.4,842.7 250.4,842.8 251.4,841.6 252.4,843.9 253.4,846.1 254.4,845.4 255.4,847.6 256.4,845.9 257.4,847.0 258.4,847.9 259.4,843.9 260.4,844.3 261.4,843.2 262.4,840.2" fill="none" stroke="#d4d4d4" stroke-width="1.0" stroke-linejoin="round"/>
<polyline points="262.4,840.2 263.4,839.4 264.4,841.2 265.4,840.1 266.4,834.3 267.4,834.2 268.4,832.8 269.4,826.7 270.4,826.2 271.4,820.6 272.4,820.0 273.4,819.1 274.4,815.8 275.4,813.6 276.4,804.9 277.4,802.6 278.4,803.8 279.4,799.7 280.4,797.4 281.4,797.1 282.4,802.6 283.4,801.0 284.4,799.2 285.4,807.3 286.4,806.3 287.4,808.1 288.4,807.6 289.4,810.1 290.4,810.8 291.4,811.6 292.4,817.3 293.4,816.4 294.4,821.2 295.4,817.3 296.4,822.3 297.4,823.0 298.4,821.9 299.4,823.7 300.4,821.7 301.4,825.0 302.4,825.6 303.4,827.2 304.4,833.3 305.4,833.3 306.4,835.6 307.4,839.5 308.4,839.4 309.4,842.5 310.4,842.1 311.4,845.9 312.4,845.3 313.4,846.1 314.4,850.5 315.4,849.4 316.4,853.2 317.4,854.4 318.4,854.5 319.4,854.0 320.4,855.2 321.4,856.5 322.4,857.9 323.4,859.3 324.4,860.9 325.4,860.3 326.4,860.5 327.4,862.1 328.4,861.9 329.4,862.5 330.4,864.1 331.4,865.0 332.4,864.6 333.4,865.9 334.4,866.7 335.4,867.3 336.4,867.1" fill="none" stroke="#fff" stroke-width="3.0" stroke-linejoin="round"/>
<polyline points="262.4,840.2 263.4,839.4 264.4,841.2 265.4,840.1 266.4,834.3 267.4,834.2 268.4,832.8 269.4,826.7 270.4,826.2 271.4,820.6 272.4,820.0 273.4,819.1 274.4,815.8 275.4,813.6 276.4,804.9 277.4,802.6 278.4,803.8 279.4,799.7 280.4,797.4 281.4,797.1 282.4,802.6 283.4,801.0 284.4,799.2 285.4,807.3 286.4,806.3 287.4,808.1 288.4,807.6 289.4,810.1 290.4,810.8 291.4,811.6 292.4,817.3 293.4,816.4 294.4,821.2 295.4,817.3 296.4,822.3 297.4,823.0 298.4,821.9 299.4,823.7 300.4,821.7 301.4,825.0 302.4,825.6 303.4,827.2 304.4,833.3 305.4,833.3 306.4,835.6 307.4,839.5 308.4,839.4 309.4,842.5 310.4,842.1 311.4,845.9 312.4,845.3 313.4,846.1 314.4,850.5 315.4,849.4 316.4,853.2 317.4,854.4 318.4,854.5 319.4,854.0 320.4,855.2 321.4,856.5 322.4,857.9 323.4,859.3 324.4,860.9 325.4,860.3 326.4,860.5 327.4,862.1 328.4,861.9 329.4,862.5 330.4,864.1 331.4,865.0 332.4,864.6 333.4,865.9 334.4,866.7 335.4,867.3 336.4,867.1" fill="none" stroke="#a0a0a0" stroke-width="1.9" stroke-linejoin="round"/>
<line x1="188.4" y1="611.2" x2="188.4" y2="876" stroke="#000" stroke-width="4.0"/>
<line x1="395.4" y1="611.2" x2="395.4" y2="876" stroke="#000" stroke-width="4.0"/>
<line x1="186.4" y1="612.7" x2="397.4" y2="612.7" stroke="#000" stroke-width="3.2"/>
<line x1="186.4" y1="698.2" x2="397.4" y2="698.2" stroke="#000" stroke-width="5.0"/>
<line x1="186.4" y1="785.6" x2="397.4" y2="785.6" stroke="#000" stroke-width="4.0"/>
<line x1="186.4" y1="872.6" x2="397.4" y2="872.6" stroke="#000" stroke-width="4.2"/>
<line x1="267.2" y1="632.6" x2="267.2" y2="721.5" stroke="#000" stroke-width="3.5"/>
<line x1="267.2" y1="652.7" x2="346.4" y2="652.7" stroke="#000" stroke-width="3.0"/>
<line x1="346.2" y1="649.0" x2="346.2" y2="656.4" stroke="#000" stroke-width="3.0"/>
<line x1="267.2" y1="743.0" x2="267.2" y2="749.4" stroke="#000" stroke-width="3.0"/>
<line x1="267.2" y1="746.0" x2="346.4" y2="746.0" stroke="#000" stroke-width="3.0"/>
<line x1="346.2" y1="742.2" x2="346.2" y2="750.4" stroke="#000" stroke-width="3.0"/>
<line x1="267.2" y1="785" x2="267.2" y2="791.5" stroke="#000" stroke-width="3.0"/>
<line x1="267.2" y1="829.4" x2="267.2" y2="835.6" stroke="#000" stroke-width="3.0"/>
<line x1="267.2" y1="832.6" x2="345.6" y2="832.6" stroke="#000" stroke-width="3.0"/>
<line x1="345.4" y1="828.5" x2="345.4" y2="836.2" stroke="#000" stroke-width="3.0"/>
<text x="294.0" y="643.7" font-size="16.4" font-weight="bold" textLength="18.8" lengthAdjust="spacingAndGlyphs" stroke="#000" stroke-width="0.6">20</text>
<text x="323.7" y="643.7" font-size="16.4" font-weight="bold" textLength="18.8" lengthAdjust="spacingAndGlyphs" stroke="#000" stroke-width="0.6">22</text>
<text x="314.6" y="644.9000000000001" font-size="32" textLength="7.9" lengthAdjust="spacingAndGlyphs" stroke="#000" stroke-width="1.1">/</text>
<text x="293.7" y="734.4" font-size="16.4" font-weight="bold" textLength="18.8" lengthAdjust="spacingAndGlyphs" stroke="#000" stroke-width="0.6">40</text>
<text x="323.4" y="734.4" font-size="16.4" font-weight="bold" textLength="18.8" lengthAdjust="spacingAndGlyphs" stroke="#000" stroke-width="0.6">60</text>
<text x="314.7" y="735.5" font-size="32" textLength="7.9" lengthAdjust="spacingAndGlyphs" stroke="#000" stroke-width="1.1">/</text>
<text x="295.0" y="821.7" font-size="16.4" font-weight="bold" textLength="18.8" lengthAdjust="spacingAndGlyphs" stroke="#000" stroke-width="0.6">13</text>
<text x="323.4" y="821.7" font-size="16.4" font-weight="bold" textLength="18.8" lengthAdjust="spacingAndGlyphs" stroke="#000" stroke-width="0.6">75</text>
<text x="314.3" y="822.7" font-size="32" textLength="7.9" lengthAdjust="spacingAndGlyphs" stroke="#000" stroke-width="1.1">/</text>
<line x1="189.4" y1="872" x2="189.4" y2="883.2" stroke="#000" stroke-width="3.8"/>
<line x1="204.88799327691183" y1="872" x2="204.88799327691183" y2="879.3" stroke="#000" stroke-width="2.8"/>
<line x1="213.94788855532664" y1="872" x2="213.94788855532664" y2="879.3" stroke="#000" stroke-width="2.8"/>
<line x1="220.37598655382368" y1="872" x2="220.37598655382368" y2="879.3" stroke="#000" stroke-width="2.8"/>
<line x1="225.36200672308817" y1="872" x2="225.36200672308817" y2="883.2" stroke="#000" stroke-width="3.4"/>
<line x1="229.43588183223846" y1="872" x2="229.43588183223846" y2="879.3" stroke="#000" stroke-width="2.8"/>
<line x1="232.88029415873353" y1="872" x2="232.88029415873353" y2="879.3" stroke="#000" stroke-width="2.8"/>
<line x1="235.8639798307355" y1="872" x2="235.8639798307355" y2="879.3" stroke="#000" stroke-width="2.8"/>
<line x1="238.49577711065328" y1="872" x2="238.49577711065328" y2="879.3" stroke="#000" stroke-width="2.8"/>
<line x1="240.85000000000002" y1="872" x2="240.85000000000002" y2="883.2" stroke="#000" stroke-width="3.8"/>
<line x1="256.33799327691185" y1="872" x2="256.33799327691185" y2="879.3" stroke="#000" stroke-width="2.8"/>
<line x1="265.39788855532663" y1="872" x2="265.39788855532663" y2="879.3" stroke="#000" stroke-width="2.8"/>
<line x1="271.82598655382367" y1="872" x2="271.82598655382367" y2="879.3" stroke="#000" stroke-width="2.8"/>
<line x1="276.8120067230882" y1="872" x2="276.8120067230882" y2="883.2" stroke="#000" stroke-width="3.4"/>
<line x1="280.8858818322385" y1="872" x2="280.8858818322385" y2="879.3" stroke="#000" stroke-width="2.8"/>
<line x1="284.3302941587335" y1="872" x2="284.3302941587335" y2="879.3" stroke="#000" stroke-width="2.8"/>
<line x1="287.3139798307355" y1="872" x2="287.3139798307355" y2="879.3" stroke="#000" stroke-width="2.8"/>
<line x1="289.94577711065324" y1="872" x2="289.94577711065324" y2="879.3" stroke="#000" stroke-width="2.8"/>
<line x1="292.3" y1="872" x2="292.3" y2="883.2" stroke="#000" stroke-width="3.8"/>
<line x1="307.78799327691183" y1="872" x2="307.78799327691183" y2="879.3" stroke="#000" stroke-width="2.8"/>
<line x1="316.8478885553267" y1="872" x2="316.8478885553267" y2="879.3" stroke="#000" stroke-width="2.8"/>
<line x1="323.2759865538237" y1="872" x2="323.2759865538237" y2="879.3" stroke="#000" stroke-width="2.8"/>
<line x1="328.2620067230882" y1="872" x2="328.2620067230882" y2="883.2" stroke="#000" stroke-width="3.4"/>
<line x1="332.3358818322385" y1="872" x2="332.3358818322385" y2="879.3" stroke="#000" stroke-width="2.8"/>
<line x1="335.78029415873357" y1="872" x2="335.78029415873357" y2="879.3" stroke="#000" stroke-width="2.8"/>
<line x1="338.7639798307355" y1="872" x2="338.7639798307355" y2="879.3" stroke="#000" stroke-width="2.8"/>
<line x1="341.3957771106533" y1="872" x2="341.3957771106533" y2="879.3" stroke="#000" stroke-width="2.8"/>
<line x1="343.75" y1="872" x2="343.75" y2="883.2" stroke="#000" stroke-width="3.8"/>
<line x1="359.2379932769119" y1="872" x2="359.2379932769119" y2="879.3" stroke="#000" stroke-width="2.8"/>
<line x1="368.29788855532667" y1="872" x2="368.29788855532667" y2="879.3" stroke="#000" stroke-width="2.8"/>
<line x1="374.72598655382365" y1="872" x2="374.72598655382365" y2="879.3" stroke="#000" stroke-width="2.8"/>
<line x1="379.71200672308817" y1="872" x2="379.71200672308817" y2="883.2" stroke="#000" stroke-width="3.4"/>
<line x1="383.7858818322385" y1="872" x2="383.7858818322385" y2="879.3" stroke="#000" stroke-width="2.8"/>
<line x1="387.2302941587335" y1="872" x2="387.2302941587335" y2="879.3" stroke="#000" stroke-width="2.8"/>
<line x1="390.2139798307355" y1="872" x2="390.2139798307355" y2="879.3" stroke="#000" stroke-width="2.8"/>
<line x1="392.8457771106533" y1="872" x2="392.8457771106533" y2="879.3" stroke="#000" stroke-width="2.8"/>
<line x1="395.2" y1="872" x2="395.2" y2="883.2" stroke="#000" stroke-width="3.8"/>
<text x="97.8" y="663.5" font-size="16.8" font-weight="bold" textLength="74.4" lengthAdjust="spacingAndGlyphs">Controls</text>
<text x="123.2" y="750.2" font-size="17" font-weight="bold" textLength="49.2" lengthAdjust="spacingAndGlyphs">4 wks</text>
<text x="123.2" y="835.9" font-size="17" font-weight="bold" textLength="49.2" lengthAdjust="spacingAndGlyphs">8 wks</text>
<text x="432.6" y="732.0" font-size="19" font-weight="bold" textLength="55" lengthAdjust="spacingAndGlyphs">gated</text>
<text x="409.3" y="757.4" font-size="18.8" font-weight="bold" textLength="106" lengthAdjust="spacingAndGlyphs">CD4+ cells</text>
<text x="193.4" y="904.8" font-size="16.6" font-weight="bold" textLength="39" lengthAdjust="spacingAndGlyphs">PD-1</text>
<line x1="237.6" y1="901.3" x2="280" y2="901.3" stroke="#000" stroke-width="4.0"/>
<polygon points="279.6,895.6 292.6,901.2 279.6,906.8" fill="#fff" stroke="#000" stroke-width="2.2" stroke-linejoin="miter"/>
</g>
</svg></body></html>
